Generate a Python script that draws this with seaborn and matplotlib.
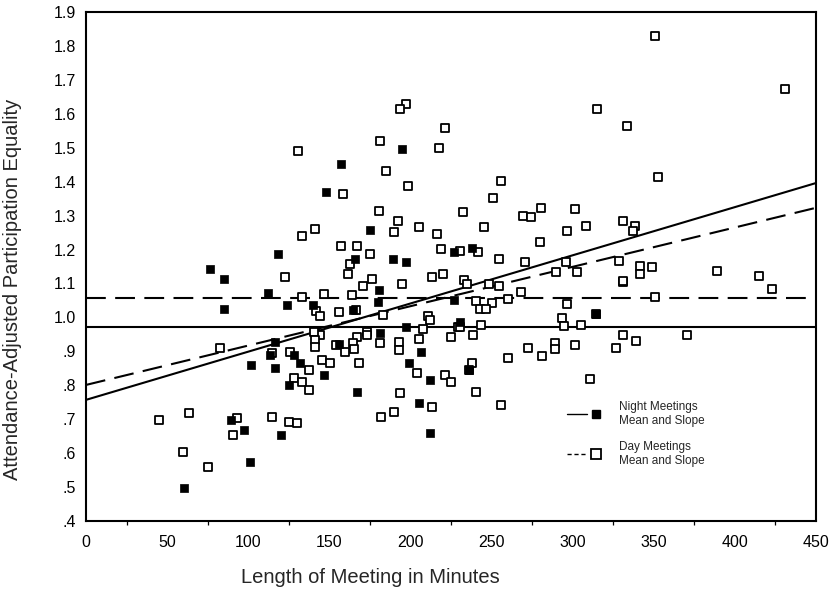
import numpy as np
import matplotlib.pyplot as plt
from matplotlib.lines import Line2D
from matplotlib.legend_handler import HandlerTuple
from matplotlib.ticker import MultipleLocator
import seaborn as sns

# night meetings (filled squares): minutes, equality
night_x = [60.7, 89.3, 97.5, 100.8, 120.4, 124.9, 76.7, 84.8, 84.8, 112.3,
           118.1, 123.9, 139.9, 147.7, 157.0, 166.0, 175.3, 180.9, 180.0, 164.6,
           194.9, 189.1, 197.3, 226.7, 237.7, 226.7, 197.3, 230.5, 181.5, 156.2,
           206.2, 199.4, 211.9, 167.0, 205.1, 211.9, 146.9, 131.7, 116.7, 113.6,
           116.7, 236.4, 314.6, 128.0, 102.0]
night_y = [0.496, 0.698, 0.668, 0.575, 0.653, 0.801, 1.143, 1.114, 1.026, 1.073,
           1.187, 1.036, 1.036, 1.369, 1.451, 1.173, 1.257, 1.081, 1.044, 1.021,
           1.495, 1.172, 1.162, 1.192, 1.204, 1.051, 0.973, 0.985, 0.953, 0.921,
           0.899, 0.865, 0.815, 0.781, 0.747, 0.658, 0.830, 0.865, 0.850, 0.889,
           0.928, 0.845, 1.010, 0.890, 0.860]

# day meetings (open squares)
day_x = [44.8, 63.2, 59.5, 75.5, 93.0, 90.5, 114.8, 124.9, 130.0, 82.7,
         130.7, 158.2, 181.0, 180.4, 140.9, 133.1, 157.0, 167.3, 175.3, 162.5,
         161.7, 176.5, 170.6, 122.6, 132.9, 146.7, 164.0, 142.0, 144.4, 156.0,
         166.5, 141.2, 144.4, 167.0, 173.3, 183.1, 210.7, 211.9, 207.6, 229.4,
         173.3, 164.6, 165.0, 159.5, 154.0, 181.0, 192.8, 192.8, 205.1, 224.7,
         204.1, 221.6, 224.7, 168.5, 193.4, 213.0, 182.1, 190.1, 140.3, 140.9,
         140.9, 145.5, 150.2, 137.7, 128.0, 133.1, 137.5, 125.9, 114.5, 197.3,
         193.8, 221.2, 217.7, 185.0, 198.2, 255.6, 251.0, 192.6, 190.1, 205.1,
         232.7, 245.3, 269.5, 274.1, 280.7, 216.5, 296.7, 218.9, 230.5, 241.8,
         254.5, 270.4, 279.6, 295.7, 289.9, 194.9, 213.2, 220.2, 232.9, 235.0,
         248.3, 254.5, 267.9, 240.7, 250.4, 242.6, 246.7, 260.1, 296.7, 314.6,
         331.2, 230.5, 243.2, 293.2, 294.7, 304.9, 238.5, 331.2, 272.6, 280.9,
         288.9, 288.9, 301.4, 326.5, 260.3, 238.1, 236.4, 240.7, 255.6, 310.7,
         350.8, 431.0, 315.2, 333.5, 352.9, 301.4, 308.4, 331.3, 338.3, 337.0,
         302.5, 328.8, 331.3, 341.4, 341.4, 348.6, 388.7, 414.8, 423.0, 350.8,
         339.3, 370.2]
day_y = [0.698, 0.717, 0.604, 0.559, 0.703, 0.653, 0.707, 0.692, 0.688, 0.909,
         1.490, 1.364, 1.520, 1.314, 1.260, 1.241, 1.211, 1.211, 1.187, 1.157,
         1.129, 1.114, 1.094, 1.118, 1.060, 1.070, 1.065, 1.020, 1.005, 1.015,
         1.021, 0.958, 0.948, 0.943, 0.958, 1.007, 1.005, 0.992, 0.966, 0.973,
         0.948, 0.924, 0.907, 0.899, 0.918, 0.924, 0.928, 0.904, 0.936, 0.943,
         0.835, 0.830, 0.810, 0.865, 0.776, 0.737, 0.707, 0.722, 0.958, 0.933,
         0.914, 0.874, 0.865, 0.845, 0.820, 0.810, 0.786, 0.899, 0.895, 1.629,
         1.613, 1.559, 1.500, 1.432, 1.387, 1.402, 1.353, 1.285, 1.251, 1.265,
         1.310, 1.265, 1.300, 1.295, 1.323, 1.246, 1.255, 1.202, 1.197, 1.192,
         1.172, 1.162, 1.221, 1.164, 1.133, 1.098, 1.118, 1.128, 1.110, 1.098,
         1.098, 1.093, 1.074, 1.049, 1.041, 1.025, 1.025, 1.054, 1.039, 1.010,
         1.105, 0.973, 0.978, 0.997, 0.975, 0.978, 0.948, 0.948, 0.909, 0.887,
         0.925, 0.906, 0.919, 0.909, 0.879, 0.865, 0.845, 0.781, 0.742, 0.819,
         1.829, 1.672, 1.613, 1.564, 1.413, 1.319, 1.270, 1.285, 1.270, 1.255,
         1.133, 1.167, 1.108, 1.152, 1.128, 1.148, 1.138, 1.123, 1.084, 1.059,
         0.931, 0.948]

# means and fitted slopes (value at 0 and 450 minutes)
night_mean = 0.972
day_mean = 1.057
line_x = [0, 450]
night_fit = [0.757, 1.396]
day_fit = [0.801, 1.323]

x_ticks = list(range(0, 451, 50))
y_ticks = [0.4, 0.5, 0.6, 0.7, 0.8, 0.9, 1.0, 1.1, 1.2, 1.3, 1.4, 1.5, 1.6, 1.7, 1.8, 1.9]
y_labels = ['.4', '.5', '.6', '.7', '.8', '.9', '1.0', '1.1', '1.2', '1.3',
            '1.4', '1.5', '1.6', '1.7', '1.8', '1.9']

sns.set_style('white')
plt.rcParams['font.family'] = ['Liberation Sans', 'DejaVu Sans']

fig = plt.figure(figsize=(8.32, 5.9), dpi=100)
ax = fig.add_axes([86 / 832, 1 - 521 / 590, 730 / 832, 509 / 590])

dash = (0, (9.5, 4.5))
ax.axhline(night_mean, color='black', lw=1.5, zorder=2)
ax.axhline(day_mean, color='black', lw=1.5, ls=dash, zorder=2)
ax.plot(line_x, night_fit, color='black', lw=1.5, zorder=2)
ax.plot(line_x, day_fit, color='black', lw=1.5, ls=dash, zorder=2)

sns.scatterplot(x=day_x, y=day_y, marker='s', s=36, facecolor='white',
                edgecolor='black', linewidth=1.3, ax=ax, zorder=3)
sns.scatterplot(x=night_x, y=night_y, marker='s', s=30, color='black',
                edgecolor='black', linewidth=0.5, ax=ax, zorder=4)

ax.set_xlim(0, 450)
ax.set_ylim(0.4, 1.9)
ax.set_xticks(x_ticks)
ax.xaxis.set_minor_locator(MultipleLocator(25))
ax.set_yticks(y_ticks, y_labels)
ax.tick_params(axis='both', which='major', direction='out', length=3, width=3,
               labelsize=11.5, color='black', labelcolor='black')
ax.tick_params(axis='x', which='minor', direction='out', length=3, width=0.9,
               bottom=True, color='black')
ax.tick_params(axis='x', pad=7)
ax.tick_params(axis='y', pad=4)
for sp in ax.spines.values():
    sp.set_linewidth(1.5)
    sp.set_color('black')

ax.set_xlabel('Length of Meeting in Minutes', fontsize=14.5)
ax.set_ylabel('Attendance-Adjusted Participation Equality', fontsize=14.5)
ax.xaxis.set_label_coords(0.39, -0.092)
ax.yaxis.set_label_coords(-0.088, 0.456)

h_night = (Line2D([], [], color='black', lw=1),
           Line2D([], [], marker='s', ls='none', mfc='black', mec='black', ms=6))
h_day = (Line2D([], [], color='black', lw=1, ls=(0, (3, 2))),
         Line2D([], [], marker='s', ls='none', mfc='white', mec='black', ms=7, mew=1.3))
ax.legend([h_night, h_day],
          ['Night Meetings\nMean and Slope', 'Day Meetings\nMean and Slope'],
          handler_map={tuple: HandlerTuple(ndivide=None, pad=0)},
          frameon=False, loc='upper left', bbox_to_anchor=(0.659, 0.236),
          borderpad=0, borderaxespad=0, fontsize=8.5, handlelength=3.3,
          handletextpad=1.1, labelspacing=1.2)

plt.savefig('out.png', dpi=100)
